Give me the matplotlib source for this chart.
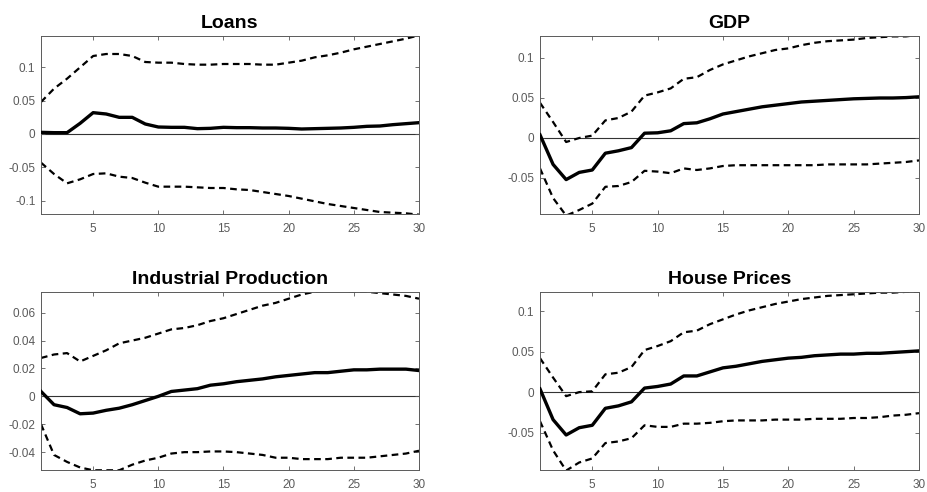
import matplotlib
matplotlib.use("Agg")
import matplotlib.pyplot as plt
import numpy as np

plt.rcParams['font.family'] = ['Liberation Sans', 'DejaVu Sans']

horizon = list(range(1, 31))

loans_med = [0.0025, 0.002, 0.002, 0.016, 0.032, 0.030, 0.025, 0.025, 0.015, 0.0105,
             0.010, 0.010, 0.008, 0.0085, 0.010, 0.0095, 0.0095, 0.009, 0.009, 0.0085,
             0.0075, 0.008, 0.0085, 0.009, 0.010, 0.0115, 0.012, 0.014, 0.0155, 0.017]
loans_up = [0.048, 0.068, 0.083, 0.100, 0.117, 0.120, 0.120, 0.117, 0.108, 0.107,
            0.107, 0.105, 0.104, 0.104, 0.105, 0.105, 0.105, 0.104, 0.104, 0.107,
            0.110, 0.115, 0.118, 0.122, 0.127, 0.131, 0.135, 0.139, 0.143, 0.148]
loans_lo = [-0.043, -0.060, -0.074, -0.068, -0.060, -0.059, -0.064, -0.066, -0.073, -0.079,
            -0.079, -0.079, -0.080, -0.081, -0.081, -0.083, -0.084, -0.087, -0.090, -0.093,
            -0.097, -0.101, -0.105, -0.108, -0.111, -0.114, -0.117, -0.118, -0.119, -0.121]

gdp_med = [0.004, -0.033, -0.052, -0.043, -0.040, -0.019, -0.016, -0.012, 0.006, 0.0065,
           0.009, 0.018, 0.019, 0.024, 0.030, 0.033, 0.036, 0.039, 0.041, 0.043,
           0.045, 0.046, 0.047, 0.048, 0.049, 0.0495, 0.050, 0.050, 0.0505, 0.0515]
gdp_up = [0.044, 0.020, -0.005, 0.000, 0.003, 0.022, 0.025, 0.033, 0.053, 0.057,
          0.062, 0.074, 0.076, 0.085, 0.092, 0.097, 0.102, 0.106, 0.110, 0.112,
          0.116, 0.119, 0.121, 0.122, 0.123, 0.125, 0.126, 0.127, 0.127, 0.129]
gdp_lo = [-0.038, -0.075, -0.097, -0.090, -0.082, -0.061, -0.060, -0.055, -0.041, -0.042,
          -0.044, -0.038, -0.040, -0.038, -0.035, -0.034, -0.034, -0.034, -0.034, -0.034,
          -0.034, -0.034, -0.033, -0.033, -0.033, -0.033, -0.032, -0.031, -0.030, -0.028]

ip_med = [0.0035, -0.006, -0.008, -0.0125, -0.012, -0.010, -0.0085, -0.006, -0.003, 0.000,
          0.0035, 0.0045, 0.0055, 0.008, 0.009, 0.0105, 0.0115, 0.0125, 0.014, 0.015,
          0.016, 0.017, 0.017, 0.018, 0.019, 0.019, 0.0195, 0.0195, 0.0195, 0.0185]
ip_up = [0.0275, 0.030, 0.031, 0.025, 0.029, 0.033, 0.038, 0.040, 0.042, 0.045,
         0.048, 0.049, 0.051, 0.054, 0.056, 0.059, 0.062, 0.065, 0.067, 0.070,
         0.073, 0.075, 0.076, 0.076, 0.075, 0.075, 0.074, 0.073, 0.072, 0.070]
ip_lo = [-0.020, -0.042, -0.047, -0.051, -0.053, -0.053, -0.053, -0.049, -0.046, -0.044,
         -0.041, -0.040, -0.040, -0.0395, -0.0395, -0.040, -0.041, -0.042, -0.044, -0.044,
         -0.045, -0.045, -0.045, -0.044, -0.044, -0.044, -0.043, -0.042, -0.041, -0.039]

hp_med = [0.004, -0.034, -0.053, -0.044, -0.041, -0.020, -0.017, -0.012, 0.005, 0.007,
          0.010, 0.020, 0.020, 0.025, 0.030, 0.032, 0.035, 0.038, 0.040, 0.042,
          0.043, 0.045, 0.046, 0.047, 0.047, 0.048, 0.048, 0.049, 0.050, 0.051]
hp_up = [0.042, 0.018, -0.005, 0.000, 0.001, 0.022, 0.024, 0.031, 0.052, 0.057,
         0.063, 0.074, 0.076, 0.084, 0.090, 0.096, 0.101, 0.105, 0.109, 0.112,
         0.115, 0.117, 0.119, 0.120, 0.121, 0.122, 0.123, 0.123, 0.124, 0.124]
hp_lo = [-0.036, -0.072, -0.097, -0.087, -0.082, -0.063, -0.061, -0.057, -0.041, -0.043,
         -0.043, -0.039, -0.039, -0.038, -0.036, -0.035, -0.035, -0.035, -0.034, -0.034,
         -0.034, -0.033, -0.033, -0.033, -0.032, -0.032, -0.031, -0.029, -0.028, -0.026]

titles = ["Loans", "GDP", "Industrial Production", "House Prices"]
meds = [loans_med, gdp_med, ip_med, hp_med]
ups = [loans_up, gdp_up, ip_up, hp_up]
los = [loans_lo, gdp_lo, ip_lo, hp_lo]
ylims = [(-0.120, 0.147), (-0.095, 0.1275), (-0.0528, 0.0748), (-0.0963, 0.1238)]
yticks = [[-0.1, -0.05, 0, 0.05, 0.1],
          [-0.05, 0, 0.05, 0.1],
          [-0.04, -0.02, 0, 0.02, 0.04, 0.06],
          [-0.05, 0, 0.05, 0.1]]
ytick_labels = [["-0.1", "-0.05", "0", "0.05", "0.1"],
                ["-0.05", "0", "0.05", "0.1"],
                ["-0.04", "-0.02", "0", "0.02", "0.04", "0.06"],
                ["-0.05", "0", "0.05", "0.1"]]
xticks = [5, 10, 15, 20, 25, 30]

W, H = 927, 492
fig = plt.figure(figsize=(W / 100, H / 100), dpi=100)
boxes = [(41, 36, 419, 214), (540, 36, 919, 214), (41, 292, 419, 470), (540, 292, 919, 470)]

axcol = "#5a5a5a"
for i in range(4):
    x0, y0, x1, y1 = boxes[i]
    ax = fig.add_axes([x0 / W, 1 - y1 / H, (x1 - x0) / W, (y1 - y0) / H])
    ax.axhline(0, color="#333333", lw=0.8, zorder=1)
    ax.plot(horizon, ups[i], color="black", lw=1.6, ls=(0, (3, 2)), zorder=2)
    ax.plot(horizon, los[i], color="black", lw=1.6, ls=(0, (3, 2)), zorder=2)
    ax.plot(horizon, meds[i], color="black", lw=2.4, zorder=3)
    ax.set_xlim(1, 30)
    ax.set_ylim(*ylims[i])
    ax.set_xticks(xticks)
    ax.set_xticklabels([str(v) for v in xticks])
    ax.set_yticks(yticks[i])
    ax.set_yticklabels(ytick_labels[i])
    ax.tick_params(direction="in", length=3, width=0.6, colors=axcol,
                   labelsize=8.5, top=True, right=True)
    ax.tick_params(axis="x", pad=6.5)
    ax.tick_params(axis="y", pad=4)
    for s in ax.spines.values():
        s.set_color(axcol)
        s.set_linewidth(0.7)
    ax.set_title(titles[i], fontsize=14, fontweight="bold", pad=6)

fig.savefig("out.png", dpi=100)
